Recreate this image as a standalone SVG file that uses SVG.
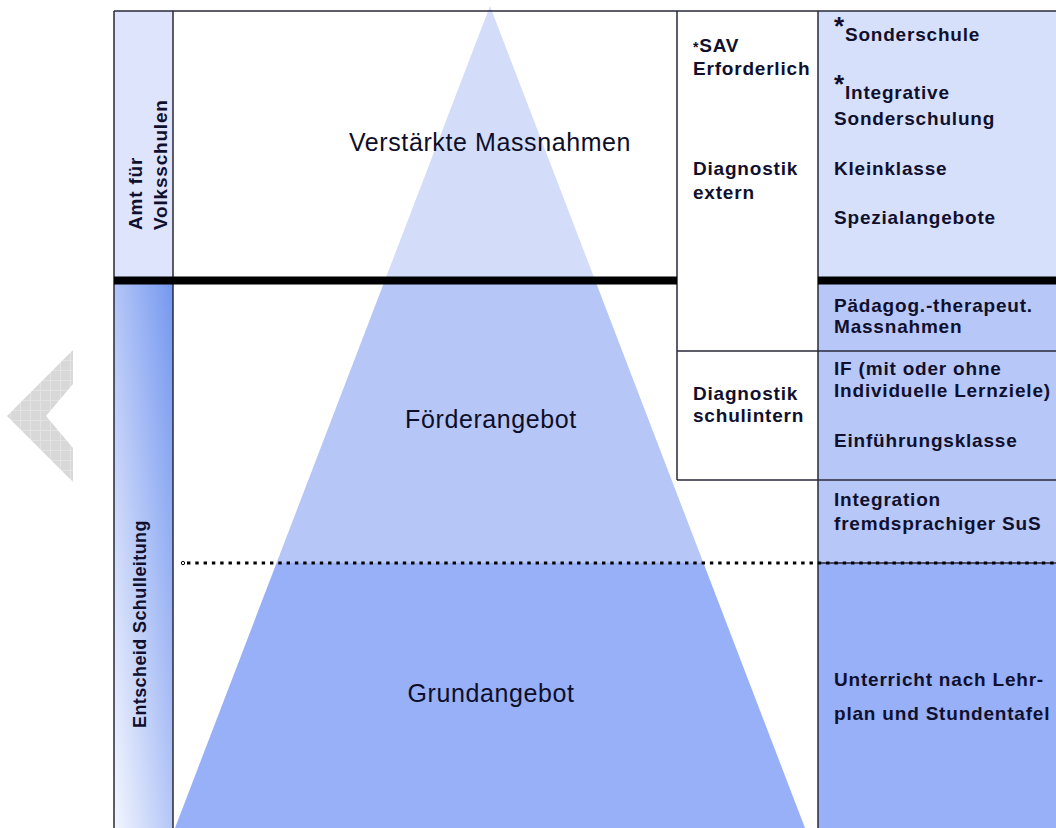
<svg xmlns="http://www.w3.org/2000/svg" width="1056" height="828" viewBox="0 0 1056 828">
<style>
.t{font-family:"Liberation Sans",Arial,sans-serif;font-weight:bold;font-size:19px;letter-spacing:0.8px;fill:#10102e}
.s{font-size:18px;letter-spacing:0.4px}
.h{font-family:"Liberation Sans",Arial,sans-serif;font-size:25px;letter-spacing:0.6px;fill:#0e0e28;text-anchor:middle}
.ln{stroke:#2a2a3a;stroke-width:1.5;fill:none}
</style>
<defs>
<pattern id="grid" width="10" height="10" patternUnits="userSpaceOnUse">
<rect width="10" height="10" fill="#d8d8d8"/>
<path d="M0 0.5H10M0.5 0V10" stroke="#e3e3e3" stroke-width="1"/>
</pattern>
<linearGradient id="sideGrad" x1="1" y1="0" x2="0" y2="1">
<stop offset="0" stop-color="#7497ef"/>
<stop offset="0.5" stop-color="#b4c6f7"/>
<stop offset="1" stop-color="#f3f6fe"/>
</linearGradient>
<clipPath id="topBand"><rect x="0" y="0" width="1056" height="281"/></clipPath>
<clipPath id="midBand"><rect x="0" y="281" width="1056" height="282"/></clipPath>
<clipPath id="lowBand"><rect x="0" y="563" width="1056" height="265"/></clipPath>
</defs>
<rect width="1056" height="828" fill="#ffffff"/>

<g id="chevron">
<polygon points="7,416 73,350 73,384 46,416 73,448 73,482" fill="url(#grid)"/>
</g>

<g id="right-column">
<rect x="818" y="11" width="238" height="270" fill="#d7e0fb"/>
<rect x="818" y="281" width="238" height="282" fill="#b7c8f8"/>
<rect x="818" y="563" width="238" height="265" fill="#98b0f7"/>
</g>

<g id="pyramid">
<polygon points="490,6 175,828 805,828" fill="#d3ddfa" clip-path="url(#topBand)"/>
<polygon points="490,6 175,828 805,828" fill="#b5c6f7" clip-path="url(#midBand)"/>
<polygon points="490,6 175,828 805,828" fill="#98b0f7" clip-path="url(#lowBand)"/>
</g>

<g id="sidebar-amt">
<rect x="114" y="11" width="59" height="270" fill="#dde4fb"/>
<text class="t" transform="translate(142,230) rotate(-90)">Amt für</text>
<text class="t" transform="translate(167,230) rotate(-90)">Volksschulen</text>
</g>

<g id="sidebar-schulleitung">
<rect x="114" y="281" width="59" height="547" fill="url(#sideGrad)"/>
<text class="t s" transform="translate(146,728) rotate(-90)">Entscheid Schulleitung</text>
</g>

<g id="connectors">
<path class="ln" d="M114 11H1056M114 11V828M173 11V828M677 11V480M818 11V828M677 351H1056M677 480H1056M818 563H1056"/>
<path d="M114 280.5H677M818 280.5H1056" stroke="#000" stroke-width="8"/>
<line x1="187" y1="563" x2="1056" y2="563" stroke="#000" stroke-width="3.2" stroke-dasharray="3.4 4.9"/>
<circle cx="183" cy="563" r="1.7" fill="#fff" stroke="#000" stroke-width="1"/>
</g>

<g id="level-verstaerkt">
<text class="h" x="490" y="151">Verstärkte Massnahmen</text>
</g>
<g id="level-foerder">
<text class="h" x="491" y="428">Förderangebot</text>
</g>
<g id="level-grund">
<text class="h" x="491" y="702">Grundangebot</text>
</g>

<g id="col-extern">
<text class="t" x="693" y="52"><tspan font-size="14">*</tspan>SAV</text>
<text class="t" x="693" y="75">Erforderlich</text>
<text class="t" x="693" y="175">Diagnostik</text>
<text class="t" x="693" y="199">extern</text>
</g>

<g id="col-intern">
<text class="t" x="693" y="400">Diagnostik</text>
<text class="t" x="693" y="422">schulintern</text>
</g>

<g id="offer-verstaerkt">
<text class="t" x="834" y="41"><tspan font-size="26" dy="-6">*</tspan><tspan dy="6">Sonderschule</tspan></text>
<text class="t" x="834" y="99"><tspan font-size="26" dy="-6">*</tspan><tspan dy="6">Integrative</tspan></text>
<text class="t" x="834" y="125">Sonderschulung</text>
<text class="t" x="834" y="175">Kleinklasse</text>
<text class="t" x="834" y="224">Spezialangebote</text>
</g>

<g id="offer-paed">
<text class="t" x="834" y="312">Pädagog.-therapeut.</text>
<text class="t" x="834" y="333">Massnahmen</text>
</g>

<g id="offer-if">
<text class="t" x="834" y="375">IF (mit oder ohne</text>
<text class="t" x="834" y="397">Individuelle Lernziele)</text>
<text class="t" x="834" y="447">Einführungsklasse</text>
</g>

<g id="offer-integration">
<text class="t" x="834" y="506">Integration</text>
<text class="t" x="834" y="530">fremdsprachiger SuS</text>
</g>

<g id="offer-grund">
<text class="t" x="834" y="686">Unterricht  nach Lehr-</text>
<text class="t" x="834" y="720">plan und Stundentafel</text>
</g>
</svg>
